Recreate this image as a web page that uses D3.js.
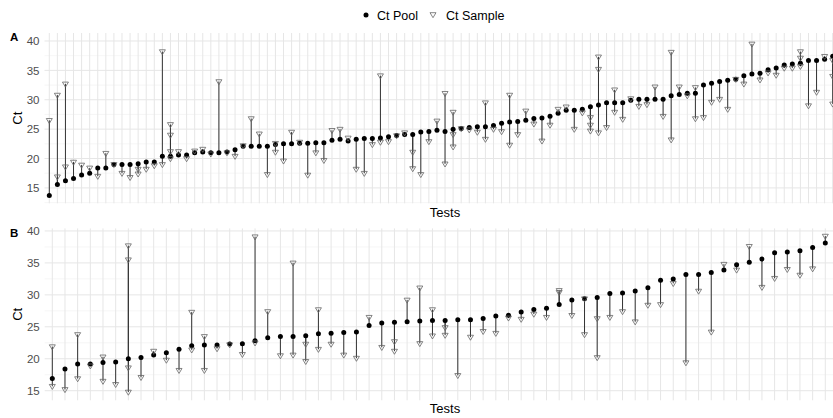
<!DOCTYPE html>
<html><head><meta charset="utf-8">
<script src="https://cdn.jsdelivr.net/npm/d3@7"></script>
<style>body{margin:0;background:#fff}svg{display:block}</style>
</head><body><svg id="c" width="833" height="418"></svg>
<script>
// ---- data ----
const yTicks = [15, 20, 25, 30, 35, 40];
const seriesNames = ["Ct Pool", "Ct Sample"];
const poolA = [13.7,15.6,16.2,16.6,17.2,17.5,18.4,18.4,19.0,19.0,19.0,19.1,19.4,19.4,20.4,20.4,20.6,20.6,21.0,21.1,
  21.0,21.0,21.1,21.5,22.1,22.1,22.1,22.1,22.4,22.5,22.5,22.6,22.6,22.7,22.7,23.1,23.3,23.0,23.3,23.4,
  23.4,23.5,23.7,23.9,24.1,24.1,24.5,24.6,24.8,24.6,25.0,25.1,25.3,25.4,25.4,25.6,26.0,26.2,26.3,26.5,
  26.8,26.9,27.2,27.7,28.2,28.2,28.4,28.8,29.1,29.5,29.5,29.5,29.9,30.1,30.1,30.1,30.1,30.7,30.9,31.1,
  31.1,32.5,32.8,33.1,33.3,33.5,34.1,34.4,34.5,35.1,35.4,35.9,36.1,36.2,36.7,36.7,36.9,37.4];
const sampleA = [[26.5],[16.9,30.8],[18.6,32.7],[19.4],[18.9],[18.4],[17.0],[20.9],[19.0],[17.5],
  [16.8],[18.2,17.4],[18.2],[18.8],[38.2,19.0],[25.8,24.0,21.2,20.0],[21.2],[20.0],[21.3],[21.6],
  [20.8],[33.1],[21.0],[20.4],[22.2],[26.8],[24.2],[17.3],[22.6,21.1],[19.6],
  [24.5],[22.8],[17.2],[21.0],[19.7],[24.8],[25.0],[23.5],[18.2],[17.5],
  [22.4],[34.1,22.8],[22.9],[23.9],[24.4],[21.1,18.3],[17.3],[22.9],[26.4],[31.1,19.1],
  [27.9,24.1,22.0],[25.1],[24.9],[24.5],[29.5,23.3],[25.0],[24.6],[30.8,22.3],[24.1],[28.1],
  [25.9],[23.0],[25.7],[28.4],[28.8],[25.0],[27.8],[27.0,25.7,24.7],[37.3,35.2,24.4],[25.3],
  [31.7,27.9],[26.7],[30.2],[28.9],[29.2],[32.2],[27.2],[38.1,23.2],[32.2],[30.7],
  [32.1,26.8],[27.0],[29.6],[30.1],[28.4],[33.5],[32.7],[39.5],[33.4],[34.6],
  [34.2],[35.4],[35.4],[38.2,37.1,35.7],[29.0],[31.3],[37.4],[36.7,34.0,29.3]];
const poolB = [16.9,18.4,19.2,19.2,19.4,19.5,20.0,20.2,20.6,20.95,21.5,22.05,22.15,22.15,22.3,22.35,22.8,23.3,23.5,23.5,
  23.6,23.9,24.0,24.1,24.2,25.2,25.6,25.7,25.8,25.9,26.0,26.0,26.1,26.1,26.3,26.7,26.8,27.3,27.7,27.9,
  28.5,29.2,29.4,29.6,30.2,30.3,30.6,31.1,32.3,32.5,33.2,33.2,33.5,33.9,34.7,35.1,35.6,36.6,36.7,36.9,
  37.4,38.1];
const sampleB = [[21.9,15.7],[15.2],[23.8,16.9],[18.9],[20.3,16.5],[16.0],[37.7,35.5,18.6,14.8],[17.1],[21.2],[19.8],
  [18.2],[27.3,21.4],[23.5,18.2],[21.6],[22.2],[20.7],[39.1,22.5],[27.4],[20.5],[35.0,20.6],
  [22.3,19.6],[27.7,21.5],[22.3],[20.6],[20.1],[26.5],[21.8],[22.7,21.2],[29.2],[31.1,22.4],
  [27.7,23.6],[24.9,23.7],[17.4],[23.4],[24.3],[24.0],[26.4],[26.2],[27.0],[26.5],
  [30.7,30.4],[26.8],[29.4,23.8],[26.3,20.2],[26.5],[27.4],[25.8],[28.4],[28.5],[31.8],
  [19.4],[30.6],[24.2],[34.8],[33.9],[37.6],[31.2],[32.6],[34.0],[33.1],
  [34.1],[39.2]];

// ---- layout ----
const svg = d3.select("#c");
const FONT = "'Liberation Sans', Arial, sans-serif";
const tri = "M-3,-1.8L3,-1.8L0,3.2Z";

const panels = [
  {label:"A", pool:poolA, samples:sampleA, x0:44.5, x1:837.5, px:[49.3,832.7],
   dom:[12.38,41.36], top:33, bottom:203.3, titleY:217, labelY:40.5},
  {label:"B", pool:poolB, samples:sampleB, x0:44.7, x1:833, px:[52.3,825.3],
   dom:[13.5,40.4], top:228.4, bottom:400.3, titleY:413, labelY:236.5}
];

panels.forEach(p => {
  const n = p.pool.length;
  const x = d3.scalePoint().domain(d3.range(n)).range(p.px);
  const y = d3.scaleLinear().domain(p.dom).range([p.bottom, p.top]);
  const g = svg.append("g");
  const clipId = "clip" + p.label;
  svg.append("clipPath").attr("id", clipId).append("rect")
    .attr("x", p.x0).attr("y", p.top - 4).attr("width", p.x1 - p.x0).attr("height", p.bottom - p.top + 8);
  const grid = g.append("g");
  // minor horizontal
  const minors = d3.range(12.5, 42.5, 5).filter(v => v > p.dom[0] && v < p.dom[1]);
  grid.selectAll(".mn").data(minors).join("line")
    .attr("x1", p.x0).attr("x2", p.x1).attr("y1", d => y(d)).attr("y2", d => y(d))
    .attr("stroke", "#f0f0f0").attr("stroke-width", 0.6);
  grid.selectAll(".mj").data(yTicks).join("line")
    .attr("x1", p.x0).attr("x2", p.x1).attr("y1", d => y(d)).attr("y2", d => y(d))
    .attr("stroke", "#e6e6e6").attr("stroke-width", 1);
  grid.selectAll(".vx").data(d3.range(n)).join("line")
    .attr("x1", d => x(d)).attr("x2", d => x(d)).attr("y1", p.top).attr("y2", p.bottom)
    .attr("stroke", "#e6e6e6").attr("stroke-width", 1);

  // y axis
  const ax = g.append("g").attr("transform", `translate(${p.x0},0)`)
    .call(d3.axisLeft(y).tickValues(yTicks).tickSize(0).tickPadding(5));
  ax.select(".domain").remove();
  ax.selectAll("text").attr("font-family", FONT).attr("font-size", 11.5).attr("fill", "#4d4d4d");

  // segments
  const segs = [];
  p.samples.forEach((arr, i) => arr.forEach(v => segs.push({i, v})));
  const marks = g.append("g").attr("clip-path", `url(#${clipId})`);
  marks.selectAll(".seg").data(segs).join("line")
    .attr("x1", d => x(d.i)).attr("x2", d => x(d.i))
    .attr("y1", d => y(p.pool[d.i])).attr("y2", d => y(d.v))
    .attr("stroke", "#333").attr("stroke-width", 1);
  marks.selectAll(".pt").data(p.pool).join("circle")
    .attr("cx", (d, i) => x(i)).attr("cy", d => y(d)).attr("r", 2.5).attr("fill", "#000");
  marks.selectAll(".tr").data(segs).join("path")
    .attr("d", tri).attr("transform", d => `translate(${x(d.i)},${y(d.v)})`)
    .attr("fill", "none").attr("stroke", "#666").attr("stroke-width", 0.8);

  // titles
  g.append("text").attr("x", 445).attr("y", p.titleY).attr("text-anchor", "middle")
    .attr("font-family", FONT).attr("font-size", 13).attr("fill", "#000").text("Tests");
  g.append("text").attr("transform", `translate(22,${(p.top + p.bottom) / 2}) rotate(-90)`)
    .attr("text-anchor", "middle").attr("font-family", FONT).attr("font-size", 13).attr("fill", "#000").text("Ct");
  g.append("text").attr("x", 10).attr("y", p.labelY).attr("font-family", FONT).attr("font-weight", "bold")
    .attr("font-size", 11.5).attr("fill", "#000").text(p.label);
});

// legend
const lg = svg.append("g");
lg.append("circle").attr("cx", 366).attr("cy", 15).attr("r", 2.5).attr("fill", "#000");
lg.append("text").attr("x", 377).attr("y", 19.5).attr("font-family", FONT).attr("font-size", 12.5).text(seriesNames[0]);
lg.append("path").attr("d", tri).attr("transform", "translate(433,14.5)").attr("fill", "none").attr("stroke", "#666").attr("stroke-width", 0.8);
lg.append("text").attr("x", 446).attr("y", 19.5).attr("font-family", FONT).attr("font-size", 12.5).text(seriesNames[1]);
</script></body></html>
